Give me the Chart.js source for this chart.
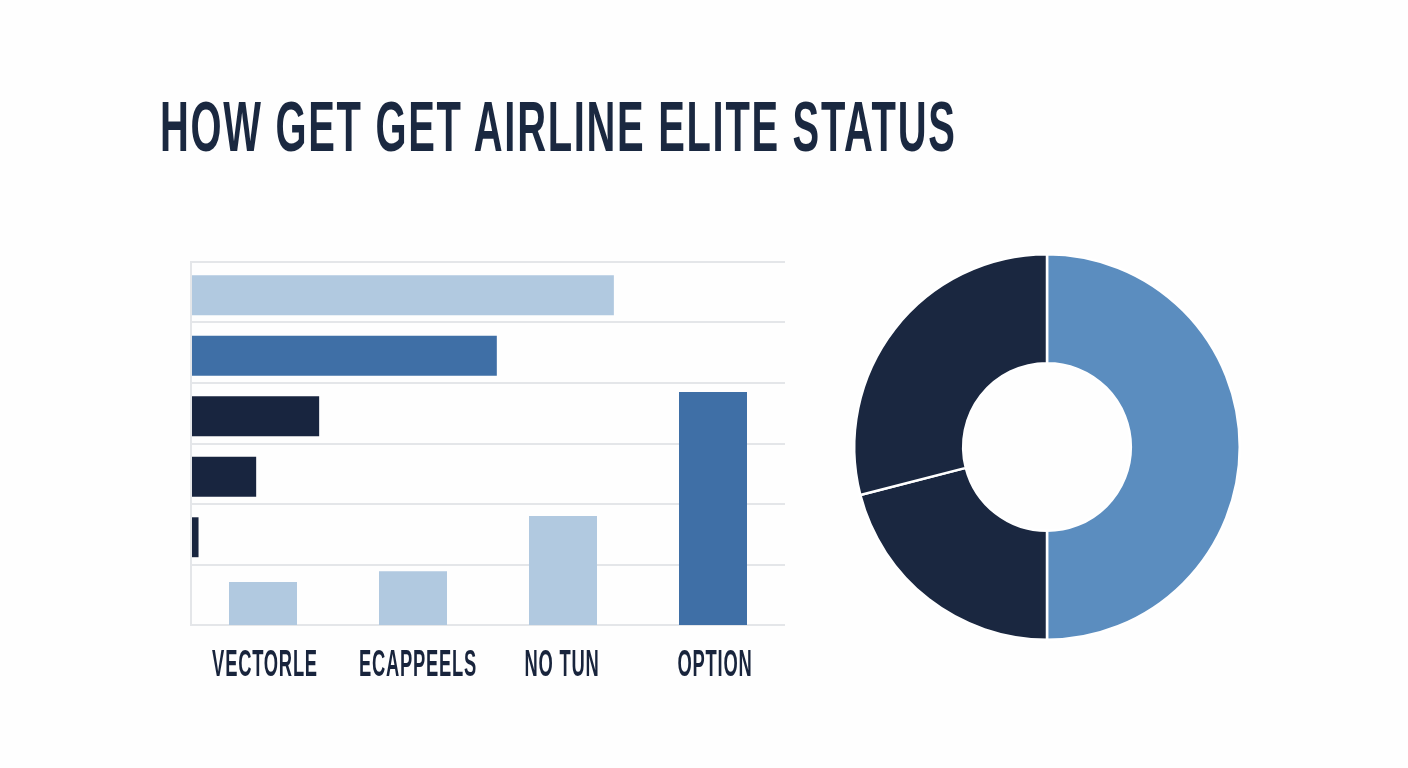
<!DOCTYPE html>
<html>
<head>
<meta charset="utf-8">
<title>How get get airline elite status</title>
<script src="https://cdn.jsdelivr.net/npm/chart.js@4/dist/chart.umd.min.js"></script>
<style>
  html, body { margin: 0; padding: 0; background: #fefefe; }
  body { width: 1408px; height: 768px; position: relative; overflow: hidden; }
  h1 {
    position: absolute; left: 160px; top: 87px; margin: 0;
    font: 700 70px "Liberation Sans", sans-serif;
    letter-spacing: 3px;
    color: #1a2840; white-space: nowrap;
    transform: scaleX(0.57); transform-origin: left top;
  }
  .box { position: absolute; left: 150px; top: 240px; width: 660px; height: 460px; }
  .tick {
    position: absolute; top: 643px;
    font: 700 36px "Liberation Sans", sans-serif;
    letter-spacing: 1.5px;
    color: #18243c; white-space: nowrap;
    transform: translateX(-50%) scaleX(0.51);
  }
</style>
</head>
<body>
<h1>HOW GET GET AIRLINE ELITE STATUS</h1>
<div class="box"><canvas id="gridLines"></canvas></div>
<div class="box"><canvas id="rowBars"></canvas></div>
<div class="box"><canvas id="colBars"></canvas></div>
<div class="box" style="left:840px;width:414px;height:414px"><canvas id="donut"></canvas></div>
<script>
const rowLabels = ["A", "B", "C", "D", "E", "F"]
const rowValues = [71.2, 51.5, 21.6, 11, 1.3, 0]
const rowColors = ["#b1c9e0", "#3f6fa6", "#18253f", "#18253f", "#18253f", "#18253f"]

const columnLabels = ["VECTORLE", "ECAPPEELS", "NO TUN", "OPTION"]
const columnValues = [0.71, 0.89, 1.8, 3.85]
const columnColors = ["#b1c9e0", "#b1c9e0", "#b1c9e0", "#3f6fa6"]

const donutValues = [50, 21, 29]
const donutColors = ["#5b8dbf", "#1a2740", "#1a2740"]

const gridColor = "#e4e6e9"
const noLegend = { legend: { display: false }, tooltip: { enabled: false } }
const hidden = { ticks: { display: false }, grid: { display: false }, border: { display: false } }

// every bar chart sits in the same box, so pin the plot area by hand
function pinned(left, right, top, bottom) {
  return {
    responsive: true,
    maintainAspectRatio: false,
    animation: false,
    layout: { padding: { left, right, top, bottom } },
    plugins: noLegend,
  }
}

// Grid gets its own chart, the bars are a few pixels off it in the picture
new Chart(document.getElementById("gridLines"), {
  type: "bar",
  data: { labels: columnLabels, datasets: [{ data: [] }] },
  options: {
    ...pinned(41, 25, 22, 75),
    scales: {
      x: { ...hidden, afterFit: (s) => { s.height = 0 } },
      y: {
        min: 0,
        max: 6,
        afterFit: (s) => { s.width = 0 },
        ticks: { display: false, stepSize: 1 },
        grid: { color: gridColor, lineWidth: 2, drawTicks: false },
        border: { color: gridColor, width: 2 },
      },
    },
  },
})

new Chart(document.getElementById("rowBars"), {
  type: "bar",
  data: {
    labels: rowLabels,
    datasets: [{ data: rowValues, backgroundColor: rowColors, categoryPercentage: 1, barPercentage: 0.66 }],
  },
  options: {
    ...pinned(42, 25, 25, 72),
    indexAxis: "y",
    scales: {
      x: { ...hidden, min: 0.2, max: 100, afterFit: (s) => { s.height = 0 } },
      y: { ...hidden, afterFit: (s) => { s.width = 0 } },
    },
  },
})

const colChart = new Chart(document.getElementById("colBars"), {
  type: "bar",
  data: {
    labels: columnLabels,
    datasets: [{ data: columnValues, backgroundColor: columnColors, categoryPercentage: 1, barPercentage: 0.4533 }],
  },
  options: {
    ...pinned(38, 22, 22, 75),
    scales: {
      x: { ...hidden, afterFit: (s) => { s.height = 0 } },
      y: { ...hidden, min: 0, max: 6, afterFit: (s) => { s.width = 0 } },
    },
  },
})

// Labels are condensed in the picture and no narrow font is installed, so squeeze real text
const labelNudge = [2, 5, -1, 2]
columnLabels.forEach((label, i) => {
  const el = document.createElement("div")
  el.className = "tick"
  el.textContent = label
  el.style.left = 150 + colChart.scales.x.getPixelForTick(i) + labelNudge[i] + "px"
  document.body.appendChild(el)
})

new Chart(document.getElementById("donut"), {
  type: "doughnut",
  data: {
    datasets: [{ data: donutValues, backgroundColor: donutColors, borderColor: "#ffffff", borderWidth: 2.5 }],
  },
  options: {
    responsive: true,
    maintainAspectRatio: false,
    animation: false,
    cutout: "43.5%",
    layout: { padding: 13 },
    plugins: noLegend,
  },
})
</script>
</body>
</html>
